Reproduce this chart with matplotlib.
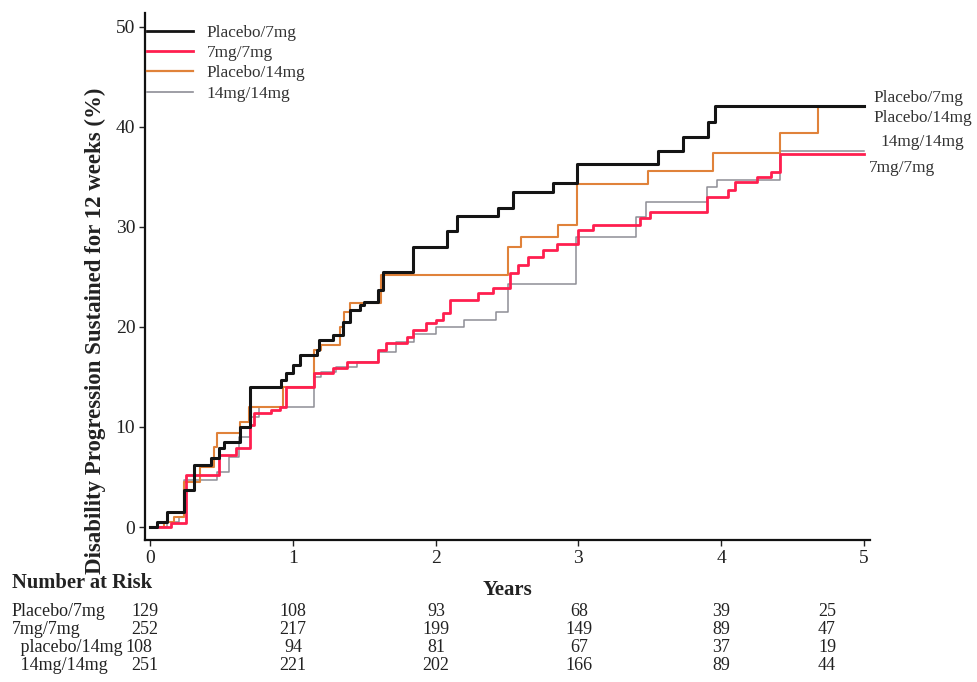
import matplotlib
matplotlib.use("Agg")
import matplotlib.pyplot as plt
from matplotlib.lines import Line2D

# ---------------- data ----------------
series_names = ["Placebo/7mg", "7mg/7mg", "Placebo/14mg", "14mg/14mg"]

black_t = [0, 0.05, 0.12, 0.24, 0.31, 0.43, 0.48, 0.52, 0.63, 0.70, 0.92, 0.95, 1.0, 1.05,
           1.17, 1.18, 1.28, 1.35, 1.40, 1.47, 1.50, 1.60, 1.63, 1.84, 2.08, 2.15, 2.44,
           2.54, 2.82, 2.99, 3.56, 3.73, 3.91, 3.96, 5.0]
black_y = [0, 0.5, 1.5, 3.7, 6.2, 6.9, 7.9, 8.5, 10.0, 14.0, 14.7, 15.4, 16.2, 17.2,
           17.7, 18.7, 19.2, 20.5, 21.7, 22.2, 22.5, 23.7, 25.5, 28.0, 29.6, 31.1, 31.9,
           33.5, 34.4, 36.3, 37.6, 39.0, 40.5, 42.1, 42.1]

red_t = [0, 0.15, 0.25, 0.48, 0.60, 0.70, 0.73, 0.85, 0.91, 0.95, 1.15, 1.28, 1.38, 1.60,
         1.65, 1.80, 1.84, 1.93, 2.00, 2.05, 2.10, 2.30, 2.40, 2.52, 2.58, 2.65, 2.75,
         2.85, 3.00, 3.10, 3.43, 3.50, 3.90, 4.05, 4.10, 4.25, 4.35, 4.41, 5.0]
red_y = [0, 0.4, 5.2, 7.2, 7.9, 10.2, 11.4, 11.7, 12.0, 14.0, 15.4, 15.9, 16.5, 17.7,
         18.4, 19.0, 19.7, 20.4, 20.7, 21.4, 22.7, 23.4, 23.9, 25.4, 26.2, 27.0, 27.7,
         28.3, 29.7, 30.2, 30.9, 31.5, 33.0, 33.7, 34.5, 35.0, 35.5, 37.3, 37.3]

orange_t = [0, 0.10, 0.17, 0.24, 0.35, 0.45, 0.47, 0.63, 0.69, 0.93, 1.15, 1.20, 1.33,
            1.36, 1.40, 1.62, 2.51, 2.60, 2.86, 2.99, 3.49, 3.94, 4.41, 4.68, 5.0]
orange_y = [0, 0.5, 1.0, 4.5, 6.0, 8.0, 9.4, 10.5, 12.0, 14.0, 17.7, 18.2, 20.0,
            21.5, 22.4, 25.2, 28.0, 29.0, 30.2, 34.3, 35.6, 37.4, 39.4, 42.0, 42.0]

grey_t = [0, 0.12, 0.20, 0.24, 0.47, 0.55, 0.62, 0.70, 0.76, 1.15, 1.20, 1.30, 1.45, 1.60,
          1.72, 1.85, 2.00, 2.20, 2.42, 2.51, 2.98, 3.40, 3.47, 3.90, 3.97, 4.41, 5.0]
grey_y = [0, 0.5, 1.0, 4.7, 5.5, 7.0, 9.0, 11.0, 12.0, 15.0, 15.5, 16.0, 16.5, 17.5,
          18.5, 19.3, 20.0, 20.7, 21.5, 24.3, 29.0, 31.0, 32.5, 34.0, 34.7, 37.6, 37.6]

y_ticks = [0, 10, 20, 30, 40, 50]
x_ticks = [0, 1, 2, 3, 4, 5]

risk_labels = ["Placebo/7mg", "7mg/7mg", " placebo/14mg", " 14mg/14mg"]
risk_placebo7 = [129, 108, 93, 68, 39, 25]
risk_7_7 = [252, 217, 199, 149, 89, 47]
risk_placebo14 = [108, 94, 81, 67, 37, 19]
risk_14_14 = [251, 221, 202, 166, 89, 44]

# ---------------- style ----------------
W, H = 977, 682
SERIF = ["Liberation Serif", "DejaVu Serif"]
plt.rcParams["font.family"] = SERIF

c_black = "#141414"
c_red = "#ff1f4f"
c_orange = "#e0823a"
c_grey = "#8e8e96"
c_text = "#222222"

fig = plt.figure(figsize=(W / 100, H / 100), dpi=100)
fig.patch.set_facecolor("white")

def fx(px):
    return px / W

def fy(py):
    return 1 - py / H

ax_l, ax_r, ax_t, ax_b = 145, 870, 13, 540
ax = fig.add_axes([fx(ax_l), fy(ax_b), (ax_r - ax_l) / W, (ax_b - ax_t) / H])
ax.set_xlim(-0.035, 5.042)
ax.set_ylim(-1.3, 51.4)

ax.step(grey_t, grey_y, where="post", color=c_grey, lw=1.1, zorder=2)
ax.step(orange_t, orange_y, where="post", color=c_orange, lw=1.5, zorder=3)
ax.step(red_t, red_y, where="post", color=c_red, lw=2.0, zorder=4)
ax.step(black_t, black_y, where="post", color=c_black, lw=2.2, zorder=5)

for s in ["top", "right"]:
    ax.spines[s].set_visible(False)
for s in ["left", "bottom"]:
    ax.spines[s].set_linewidth(1.6)
    ax.spines[s].set_color("#111111")

ax.set_yticks(y_ticks)
ax.set_xticks(x_ticks)
ax.tick_params(axis="both", direction="out", length=4, width=1.0, labelsize=14,
               colors=c_text, pad=3)

# legend
handles = [Line2D([], [], color=c_black, lw=2.0),
           Line2D([], [], color=c_red, lw=2.0),
           Line2D([], [], color=c_orange, lw=1.6),
           Line2D([], [], color=c_grey, lw=1.2)]
leg = ax.legend(handles, series_names, loc="upper left", bbox_to_anchor=(0.003, 0.978),
                frameon=False, fontsize=12.4, handlelength=2.67, handletextpad=0.8,
                labelspacing=0.25, borderpad=0, borderaxespad=0)
for t in leg.get_texts():
    t.set_color("#333333")

# end labels
end_labels = [("Placebo/7mg", 873, 98), ("Placebo/14mg", 873, 118),
              ("14mg/14mg", 880, 142), ("7mg/7mg", 869, 168)]
for txt, px, py in end_labels:
    fig.text(fx(px), fy(py), txt, fontsize=12.4, color="#333333", ha="left", va="center")

# axis labels
fig.text(fx(95), fy(331), "Disability Progression Sustained for 12 weeks (%)",
         rotation=90, fontsize=16.5, fontweight="bold", ha="center", va="center",
         color=c_text)
fig.text(fx(507), fy(590), "Years", fontsize=15, fontweight="bold", ha="center",
         va="center", color=c_text)

# number at risk table
fig.text(fx(12), fy(583), "Number at Risk", fontsize=14.8, fontweight="bold",
         ha="left", va="center", color=c_text)
row_y = [612, 630, 648, 665]
label_x = [12, 12, 16, 16]
col_x = [145, 293, 436, 579, 721, 827]
rows = [risk_placebo7, risk_7_7, risk_placebo14, risk_14_14]
for i, (lab, vals) in enumerate(zip(risk_labels, rows)):
    fig.text(fx(label_x[i]), fy(row_y[i]), lab, fontsize=13, ha="left", va="center",
             color=c_text)
    for j, v in enumerate(vals):
        x = col_x[j] - 6 if (i == 2 and j == 0) else col_x[j]
        fig.text(fx(x), fy(row_y[i]), str(v), fontsize=13, ha="center", va="center",
                 color=c_text)

fig.savefig("out.png", dpi=100, facecolor="white")
